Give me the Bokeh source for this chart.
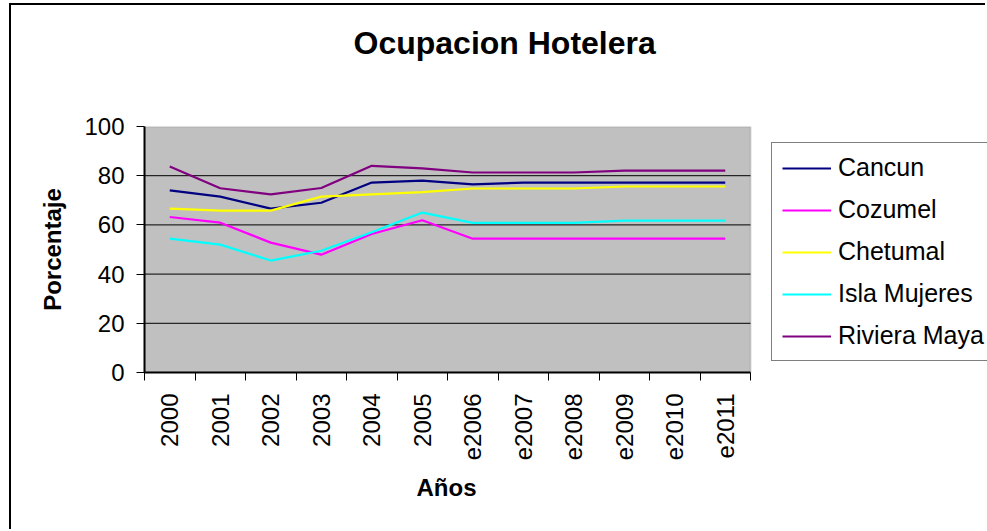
import math
from bokeh.plotting import figure
from bokeh.models import Range1d, FixedTicker, Legend, LegendItem, Title, BoxAnnotation
from bokeh.embed import file_html
from bokeh.resources import INLINE

years = ["2000", "2001", "2002", "2003", "2004", "2005",
         "e2006", "e2007", "e2008", "e2009", "e2010", "e2011"]
cancun = [74.0, 71.5, 66.6, 69.0, 77.2, 78.0, 76.5, 77.2, 77.2, 77.2, 77.2, 77.2]
cozumel = [63.2, 60.9, 52.8, 47.9, 56.3, 61.9, 54.4, 54.4, 54.4, 54.4, 54.4, 54.4]
chetumal = [66.6, 65.8, 65.8, 71.5, 72.4, 73.3, 74.8, 74.8, 74.8, 75.6, 75.6, 75.6]
isla_mujeres = [54.4, 52.0, 45.5, 49.5, 57.0, 65.0, 60.8, 60.8, 60.8, 61.7, 61.7, 61.7]
riviera_maya = [83.7, 74.9, 72.4, 75.0, 84.0, 83.0, 81.3, 81.3, 81.3, 82.1, 82.1, 82.1]
y_ticks = [0, 20, 40, 60, 80, 100]

series = [
    ("Cancun", cancun, "#000080"),
    ("Cozumel", cozumel, "#FF00FF"),
    ("Chetumal", chetumal, "#FFFF00"),
    ("Isla Mujeres", isla_mujeres, "#00FFFF"),
    ("Riviera Maya", riviera_maya, "#800080"),
]

n = len(years)
xs = [i + 0.5 for i in range(n)]
y_max = y_ticks[-1]
FONT = "Liberation Sans"

W, H = 976, 526
LEFT, TOP, BOTTOM = 133, 121, 159
PLOT_W = 606                      # pixel width of the grey plotting area
frame_w = W - LEFT                # frame reaches the right edge (room for legend)
x_end = n * frame_w / PLOT_W

p = figure(width=W, height=H, output_backend="svg", toolbar_location=None,
           x_range=Range1d(0, x_end), y_range=Range1d(0, y_max),
           min_border_left=LEFT, min_border_right=0,
           min_border_top=TOP, min_border_bottom=BOTTOM)
p.styles = {"border-left": "2px solid black", "border-top": "2px solid black",
            "margin-left": "9px", "margin-top": "3px"}
p.background_fill_color = "white"
p.border_fill_color = "white"
p.outline_line_color = None
p.title.text = ""

# grey plotting area with grey top/right border
plot_area = BoxAnnotation(left=0, right=n, bottom=0, top=y_max,
                          fill_color="#C0C0C0", fill_alpha=1,
                          line_color="#808080", line_width=2, level="image")
p.add_layout(plot_area)

p.xgrid.visible = False
p.ygrid.visible = False
grid_vals = [t for t in y_ticks if 0 < t < y_max]
p.segment(x0=[0] * len(grid_vals), x1=[n] * len(grid_vals), y0=grid_vals, y1=grid_vals,
          line_color="black", line_width=1, level="underlay")

xa = p.xaxis[0]
xa.bounds = (0, n)
xa.ticker = FixedTicker(ticks=xs, minor_ticks=list(range(n + 1)))
xa.major_label_overrides = {x: lab for x, lab in zip(xs, years)}
xa.major_tick_line_color = None
xa.minor_tick_out = 8
xa.minor_tick_in = 0
xa.minor_tick_line_color = "black"
xa.major_label_orientation = math.pi / 2
xa.major_label_standoff = 13
xa.major_label_text_font = FONT
xa.major_label_text_font_size = "24px"
xa.major_label_text_color = "black"
xa.axis_line_color = "black"
xa.axis_line_width = 2

ya = p.yaxis[0]
ya.ticker = FixedTicker(ticks=y_ticks)
ya.major_tick_out = 8
ya.major_tick_in = 0
ya.major_tick_line_color = "black"
ya.minor_tick_line_color = None
ya.major_label_standoff = 12
ya.major_label_text_font = FONT
ya.major_label_text_font_size = "24px"
ya.major_label_text_color = "black"
ya.axis_line_color = "black"
ya.axis_line_width = 2
ya.axis_label = "Porcentaje"
ya.axis_label_text_font = FONT
ya.axis_label_text_font_style = "bold"
ya.axis_label_text_font_size = "24px"
ya.axis_label_text_color = "black"
ya.axis_label_standoff = 15

# spacer between the frame and the chart title
spacer = Title(text=" ", standoff=53, text_font=FONT, text_font_size="10px")
p.add_layout(spacer, "above")
main_title = Title(text="Ocupacion Hotelera", align="left", offset=209, standoff=0,
                   text_font=FONT, text_font_style="bold", text_font_size="32px",
                   text_color="black")
p.add_layout(main_title, "above")

x_title = Title(text="Años", align="left", offset=272, standoff=16,
                text_font=FONT, text_font_style="bold", text_font_size="24px",
                text_color="black")
p.add_layout(x_title, "below")

items = []
for name, vals, col in series:
    r = p.line(xs, vals, line_color=col, line_width=2.2)
    items.append(LegendItem(label=name, renderers=[r]))

legend = Legend(items=items, location=(PLOT_W + 21, 11))
legend.border_line_color = "black"
legend.border_line_width = 1
legend.background_fill_color = "white"
legend.background_fill_alpha = 1
legend.label_text_font = FONT
legend.label_text_font_size = "25px"
legend.label_text_color = "black"
legend.glyph_width = 49
legend.glyph_height = 20
legend.label_height = 20
legend.spacing = 13
legend.padding = 10
legend.label_standoff = 7
legend.label_width = 150
legend.margin = 0
p.add_layout(legend, "center")

with open("out.html", "w") as f:
    f.write(file_html(p, INLINE))
